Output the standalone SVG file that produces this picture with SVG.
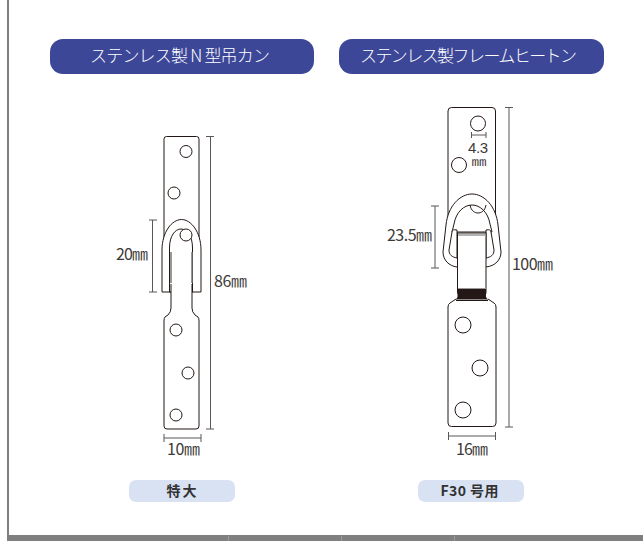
<svg xmlns="http://www.w3.org/2000/svg" width="643" height="541" viewBox="0 0 643 541">
<style>
.p{fill:#fff;stroke:#231815;stroke-width:1}
.o{fill:none;stroke:#231815;stroke-width:1}
.d{fill:none;stroke:#595757;stroke-width:1}
.t{font-family:"Noto Sans CJK JP","Noto Sans",sans-serif;font-size:16px;fill:#3e3a39;font-weight:400}
.h{font-family:"Noto Sans CJK JP",sans-serif;font-size:17px;fill:#fff;font-weight:300}
.l{font-family:"Noto Sans CJK JP",sans-serif;font-size:14px;fill:#333;font-weight:700}
.hb{fill:#3c4798}
.lb{fill:#d9e2f3}
</style>
<rect width="643" height="541" fill="#fff"/>
<g id="frame">
<rect x="7" y="0" width="2" height="536" fill="#7f7f7f"/>
<rect x="7" y="535" width="636" height="6" fill="#7f7f7f"/>
<path d="M228.500 536V541M341.500 536V541M454.500 536V541" stroke="#9a9a9a" stroke-width="1"/>
</g>
<g id="header-1"><rect class="hb" x="50" y="39" width="264" height="35" rx="13"/><text class="h" x="180" y="62" text-anchor="middle" textLength="180">ステンレス製 N 型吊カン</text></g>
<g id="header-2"><rect class="hb" x="339" y="39" width="265" height="35" rx="13"/><text class="h" x="468.500" y="62" text-anchor="middle" textLength="217">ステンレス製フレームヒートン</text></g>
<g id="product-left">
<path class="p" d="M164 290V139Q164 136.500 166.500 136.500H196.500Q199 136.500 199 139V290Z"/>
<circle class="p" cx="186" cy="151.500" r="6"/>
<circle class="p" cx="174" cy="193" r="6"/>
<path class="p" d="M162 292V250C162 232 172 219.500 181.500 219.500C191 219.500 201 232 201 250V292Z"/>
<path class="p" d="M169.500 292V248C169.500 236 175 229 181 229C187 229 192.500 236 192.500 248V292Z"/>
<circle class="p" cx="186" cy="235" r="6"/>
<path d="M171 252V283M192 252V283" stroke="#777" stroke-width="1.500" fill="none"/>
<path class="p" d="M171 284V308Q171 312 168 315L165 317Q164 318 164 321V426Q164 429 167 429H196Q199 429 199 426V321Q199 318 198 317L195 315Q192 312 192 308V284"/>
<circle class="p" cx="176" cy="330" r="6"/>
<circle class="p" cx="188" cy="373" r="6"/>
<circle class="p" cx="176" cy="415" r="6"/>
</g>
<g id="product-right">
<path class="p" d="M448 230V111Q448 107.500 451.500 107.500H492Q495.500 107.500 495.500 111V230Z"/>
<circle class="p" cx="478" cy="123.500" r="7.500"/>
<circle class="p" cx="459" cy="165" r="7.500"/>
<path class="p" d="M457 267C449 266 443 260 443 252L446 225C448 206 460 194 472 194C484 194 496 206 498 225L501 252C501 260 495 266 486 267Z"/>
<path class="p" d="M452 232L454 224C456 212 464 205 472 205C480 205 488 212 490 224L492 232Z"/>
<path class="o" d="M470 205C471 211 475 213 478 213C481 213 485 211 486 205"/>
<path class="p" d="M457 258C452 257 449 255 449 250L452 232Q452 229 457 230ZM486 258C491 257 494 255 494 250L491 232Q491 229 486 230Z"/>
<rect class="p" x="457.500" y="233" width="28.500" height="60"/>
<path d="M458 235H485.500" stroke="#9a9a9a" stroke-width="1.500"/>
<path d="M458 288.500H486" stroke="#9a9a9a" stroke-width="1"/>
<path d="M457.500 289H486V297L488 300H455.500L457.500 297Z" fill="#231815"/>
<path class="p" d="M456 299L450 303Q448 304 448 307V423Q448 426.500 451.500 426.500H492.500Q496 426.500 496 423V307Q496 304 494 303L488 299"/>
<path d="M456 299.500H488V301H456Z" fill="#231815"/>
<circle class="p" cx="463" cy="325" r="8"/>
<circle class="p" cx="480" cy="368" r="8"/>
<circle class="p" cx="463" cy="410" r="8"/>
</g>
<g id="connectors">
<path class="d" d="M210.500 136.500V429M206 136.500H214M206 429H214"/>
<path class="d" d="M152.500 220V292M149 220H157M149 292H157"/>
<path class="d" d="M164 438H201M164 434V442M201 434V442"/>
<path class="d" d="M509 107.500V427M505 107.500H513M505 427H513"/>
<path class="d" d="M435 206V268M431 206H439M431 268H439"/>
<path class="d" d="M448.500 436H495.500M448.500 432V440M495.500 432V440"/>
<path class="d" d="M471.500 135H486M471.500 132V138M486 132V138"/>
</g>
<g id="labels">
<text class="t" x="116" y="260" textLength="32">20㎜</text>
<text class="t" x="214" y="287" textLength="33">86㎜</text>
<text class="t" x="167" y="455" textLength="33">10㎜</text>
<text class="t" x="387" y="241" textLength="45">23.5㎜</text>
<text class="t" x="512" y="270" textLength="41">100㎜</text>
<text class="t" x="456" y="455" textLength="32">16㎜</text>
<text x="468" y="153" textLength="20" style="font-family:'Liberation Sans',sans-serif;font-size:15px;fill:#3e3a39">4.3</text>
<text class="t" x="471.500" y="166" style="font-size:11px" textLength="15" lengthAdjust="spacingAndGlyphs">㎜</text>
</g>
<g id="tag-1"><rect class="lb" x="129" y="480" width="106" height="22" rx="7"/><text class="l" x="181.500" y="496" text-anchor="middle" textLength="30">特大</text></g>
<g id="tag-2"><rect class="lb" x="418" y="480" width="106" height="22" rx="7"/><text class="l" x="469.500" y="496" text-anchor="middle" textLength="58">F30 号用</text></g>
</svg>
